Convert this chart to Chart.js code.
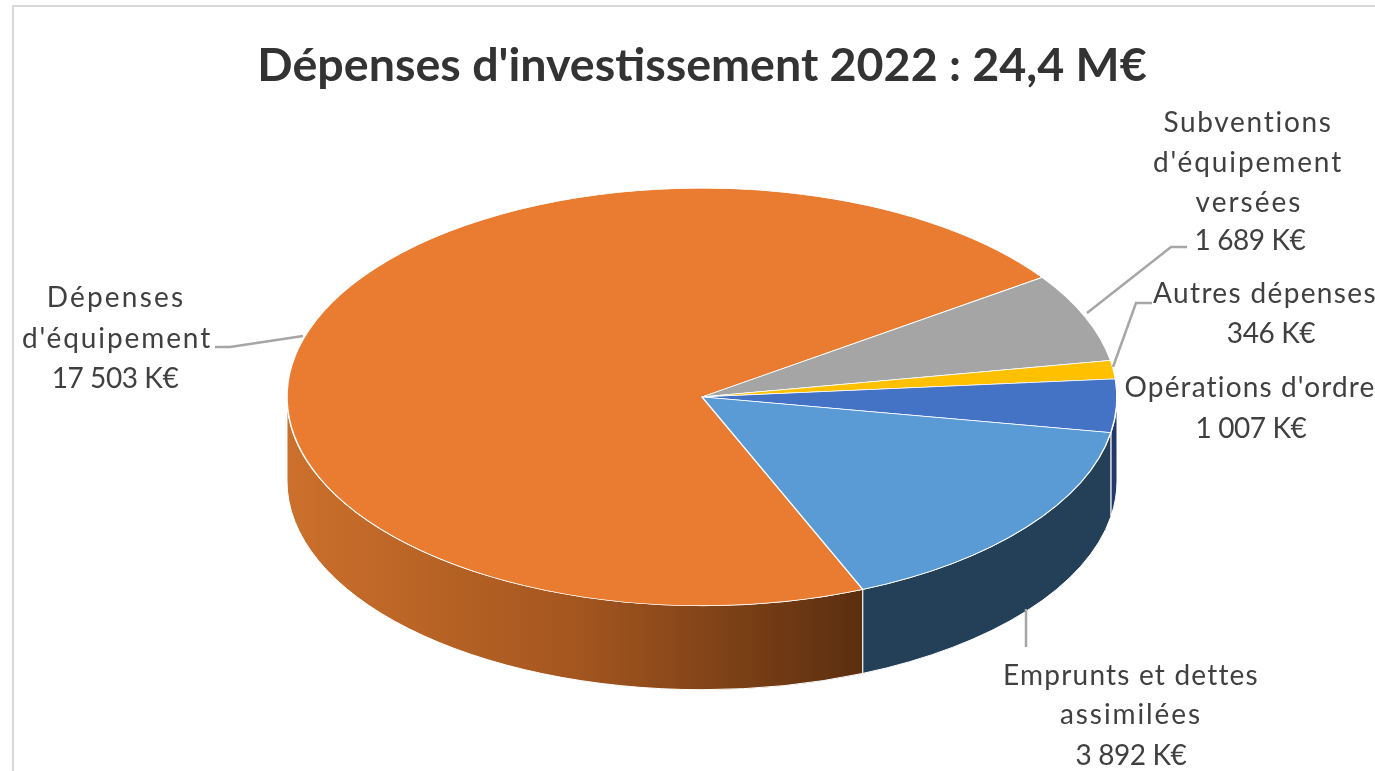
<!DOCTYPE html>
<html lang="fr">
<head>
<meta charset="utf-8">
<title>Dépenses d'investissement 2022</title>
<script src="https://cdn.jsdelivr.net/npm/chart.js@4"></script>
<style>
  html, body { margin: 0; padding: 0; background: #fff; overflow: hidden; }
  canvas { display: block; }
</style>
</head>
<body>
<canvas id="pie-chart" width="1375" height="771"></canvas>
<script>
// Chart data, K€
const titleText = "Dépenses d'investissement 2022 : 24,4 M€";
const categories = ["Dépenses d'équipement", "Subventions d'équipement versées", "Autres dépenses", "Opérations d'ordre", "Emprunts et dettes assimilées"];
const values = [17503, 1689, 346, 1007, 3892];
const valueLabels = ["17 503 K€", "1 689 K€", "346 K€", "1 007 K€", "3 892 K€"];
const topColors = ["#EA7C31", "#A5A5A5", "#FFC000", "#4472C4", "#5B9BD5"];
const wallColors = [null, "#666666", "#997300", "#22386A", "#243F58"];

// Layout of the 3D look and of the labels
const RADIUS = 415;
const SQUASH = 0.503;
const DEPTH = 84;
const TEXT_FONT = '28px Lato';
const TEXT_COLOR = '#404040';
const LINE_COLOR = '#A6A6A6';

const labelLayout = [
  { lines: [["Dépenses", 116, 307, 2.2], ["d'équipement", 117, 348, 1.9], [valueLabels[0], 115, 388, -0.4]],
    leader: [[303, 336], [230, 347], [215, 347]] },
  { lines: [["Subventions", 1248, 132, 1.7], ["d'équipement", 1248, 172, 1.9], ["versées", 1249, 212, 2], [valueLabels[1], 1250, 250, -0.4]],
    leader: [[1087, 313], [1171, 247], [1187, 247]] },
  { lines: [["Autres dépenses", 1265, 303, 1.35], [valueLabels[2], 1271, 343, -0.4]],
    leader: [[1113, 367], [1136, 303], [1152, 303]] },
  { lines: [["Opérations d'ordre", 1250, 397, 1.15], [valueLabels[3], 1251, 438, -0.4]],
    leader: [] },
  { lines: [["Emprunts et dettes", 1131, 685, 1.2], ["assimilées", 1131, 724, 1.9], [valueLabels[4], 1131, 765, -0.4]],
    leader: [[1026, 609], [1026, 647]] }
];

/**
 * Draw the side wall of the pie under the lower half of the ellipse
 */
function drawWalls(chart) {
  const ctx = chart.ctx;
  const arcs = chart.getDatasetMeta(0).data;
  const ry = RADIUS * SQUASH;

  const orangeWall = ctx.createLinearGradient(287, 0, 865, 0);
  orangeWall.addColorStop(0, '#CC702C');
  orangeWall.addColorStop(0.5, '#A4561F');
  orangeWall.addColorStop(1, '#5B2E0F');

  arcs.forEach((arc, i) => {
    [0, 2 * Math.PI].forEach(turn => {
      const from = Math.max(arc.startAngle, turn);
      const to = Math.min(arc.endAngle, turn + Math.PI);
      if (to <= from) return;
      ctx.beginPath();
      ctx.ellipse(arc.x, arc.y, RADIUS, ry, 0, from, to);
      ctx.ellipse(arc.x, arc.y + DEPTH, RADIUS, ry, 0, to, from, true);
      ctx.closePath();
      ctx.fillStyle = wallColors[i] || orangeWall;
      ctx.fill();
      ctx.strokeStyle = '#fff';
      ctx.lineWidth = 1;
      ctx.stroke();
    });
  });
}

const pie3dPlugin = {
  id: 'pie3d',
  beforeDraw(chart) {
    // outer frame, runs off the picture on the right and at the bottom
    const ctx = chart.ctx;
    ctx.save();
    ctx.strokeStyle = '#D9D9D9';
    ctx.lineWidth = 2;
    ctx.strokeRect(13, 6, 1500, 900);
    ctx.restore();
  },
  beforeDatasetsDraw(chart) {
    const ctx = chart.ctx;
    const { x, y } = chart.getDatasetMeta(0).data[0];
    drawWalls(chart);
    ctx.save();
    ctx.translate(x, y);
    ctx.scale(1, SQUASH);
    ctx.translate(-x, -y);
  },
  afterDatasetsDraw(chart) {
    chart.ctx.restore();
  },
  afterDraw(chart) {
    const ctx = chart.ctx;
    ctx.save();
    ctx.font = TEXT_FONT;
    ctx.fillStyle = TEXT_COLOR;
    ctx.textAlign = 'center';
    ctx.textBaseline = 'alphabetic';
    ctx.strokeStyle = LINE_COLOR;
    ctx.lineWidth = 2.5;
    labelLayout.forEach(label => {
      if (label.leader.length) {
        ctx.beginPath();
        label.leader.forEach(([px, py], i) => i ? ctx.lineTo(px, py) : ctx.moveTo(px, py));
        ctx.stroke();
      }
      label.lines.forEach(([text, px, py, spacing]) => {
        ctx.letterSpacing = spacing + 'px';
        ctx.fillText(text, px, py);
      });
    });
    ctx.restore();
  }
};

new Chart(document.getElementById('pie-chart'), {
  type: 'pie',
  data: {
    labels: categories,
    datasets: [{
      data: values,
      backgroundColor: topColors,
      borderColor: '#fff',
      borderWidth: 1.5,
      radius: RADIUS,
      clip: false
    }]
  },
  options: {
    responsive: false,
    animation: false,
    rotation: 157.2,
    layout: { padding: { left: 29, top: 0, right: 0, bottom: 79 } },
    plugins: {
      legend: { display: false },
      tooltip: { enabled: false },
      title: {
        display: true,
        text: titleText,
        color: '#333333',
        font: { family: 'Lato', size: 46.6, weight: 'bold', lineHeight: 1.2 },
        padding: { top: 38, bottom: 8 }
      }
    }
  },
  plugins: [pie3dPlugin]
});
</script>
</body>
</html>
